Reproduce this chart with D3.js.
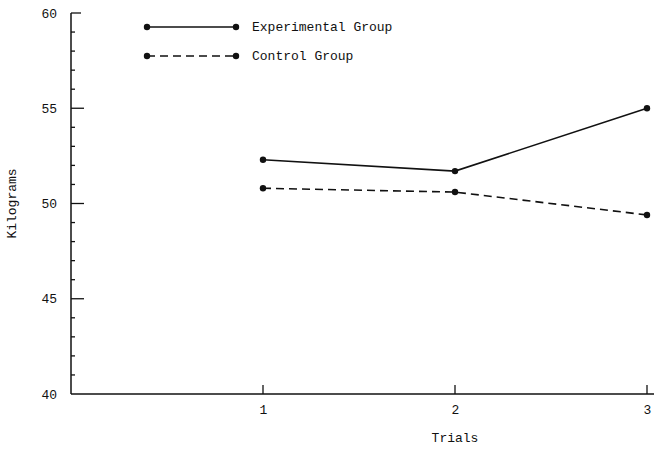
<!DOCTYPE html>
<html><head><meta charset="utf-8">
<script src="https://cdn.jsdelivr.net/npm/d3@7"></script>
<style>body{margin:0;background:#fff}svg{display:block}text{font-family:"Liberation Mono","DejaVu Sans Mono",monospace;fill:#111}</style>
</head><body><div id="chart"></div>
<script>
const trials = [1, 2, 3];
const experimental = [52.3, 51.7, 55.0];
const control = [50.8, 50.6, 49.4];
const yTicks = [40, 45, 50, 55, 60];
const seriesNames = ["Experimental Group", "Control Group"];

const W = 664, H = 452;
const svg = d3.select("#chart").append("svg").attr("width", W).attr("height", H);
const x = d3.scaleLinear().domain([0, 3]).range([71, 647]);
const y = d3.scaleLinear().domain([40, 60]).range([394, 13]);
const ink = "#111";

// y axis
const yAxis = d3.axisLeft(y).tickValues(yTicks).tickSize(0).tickPadding(14).tickFormat(d3.format("d"));
const gy = svg.append("g").attr("transform", `translate(${x(0)},0)`).call(yAxis);
gy.select(".domain").remove();
gy.selectAll("text").attr("font-size", 13).attr("fill", ink);
svg.append("line").attr("x1", x(0)).attr("x2", x(0)).attr("y1", y(60)).attr("y2", y(40)).attr("stroke", ink).attr("stroke-width", 1.5);
// minor / major ticks (pointing right)
const allY = d3.range(41, 61);
svg.selectAll(".yt").data(allY).join("line")
  .attr("x1", x(0)).attr("x2", d => d === 60 ? x(0) + 10 : (d % 5 === 0 ? x(0) + 13 : x(0) + 4))
  .attr("y1", d => y(d)).attr("y2", d => y(d)).attr("stroke", ink).attr("stroke-width", 1.3);

// x axis
const xAxis = d3.axisBottom(x).tickValues(trials).tickSize(0).tickPadding(11).tickFormat(d3.format("d"));
const gx = svg.append("g").attr("transform", `translate(0,${y(40)})`).call(xAxis);
gx.select(".domain").remove();
gx.selectAll("text").attr("font-size", 13).attr("fill", ink);
svg.append("line").attr("x1", x(0)).attr("x2", 654).attr("y1", y(40)).attr("y2", y(40)).attr("stroke", ink).attr("stroke-width", 1.5);
svg.selectAll(".xt").data(trials).join("line")
  .attr("x1", d => x(d)).attr("x2", d => x(d)).attr("y1", y(40)).attr("y2", y(40) - 9)
  .attr("stroke", ink).attr("stroke-width", 1.3);

// axis titles
svg.append("text").attr("transform", `translate(16,${(y(40)+y(60))/2}) rotate(-90)`)
  .attr("text-anchor", "middle").attr("font-size", 13).text("Kilograms");
svg.append("text").attr("x", x(2)).attr("y", 442).attr("text-anchor", "middle").attr("font-size", 13).text("Trials");

// series
const line = d3.line().x(d => x(d[0])).y(d => y(d[1]));
const series = [
  { name: seriesNames[0], vals: experimental, dash: null },
  { name: seriesNames[1], vals: control, dash: "8,5" }
];
series.forEach(s => {
  const pts = trials.map((t, i) => [t, s.vals[i]]);
  svg.append("path").datum(pts).attr("d", line).attr("fill", "none").attr("stroke", ink)
    .attr("stroke-width", 1.6).attr("stroke-dasharray", s.dash);
  svg.selectAll(null).data(pts).join("circle").attr("cx", d => x(d[0])).attr("cy", d => y(d[1]))
    .attr("r", 3.2).attr("fill", ink);
});

// legend
series.forEach((s, i) => {
  const ly = 27 + i * 29;
  svg.append("line").attr("x1", 147).attr("x2", 236).attr("y1", ly).attr("y2", ly)
    .attr("stroke", ink).attr("stroke-width", 1.6).attr("stroke-dasharray", s.dash);
  svg.append("circle").attr("cx", 147).attr("cy", ly).attr("r", 3.2).attr("fill", ink);
  svg.append("circle").attr("cx", 236).attr("cy", ly).attr("r", 3.2).attr("fill", ink);
  svg.append("text").attr("x", 252).attr("y", ly + 4).attr("font-size", 13).text(s.name);
});
</script></body></html>
